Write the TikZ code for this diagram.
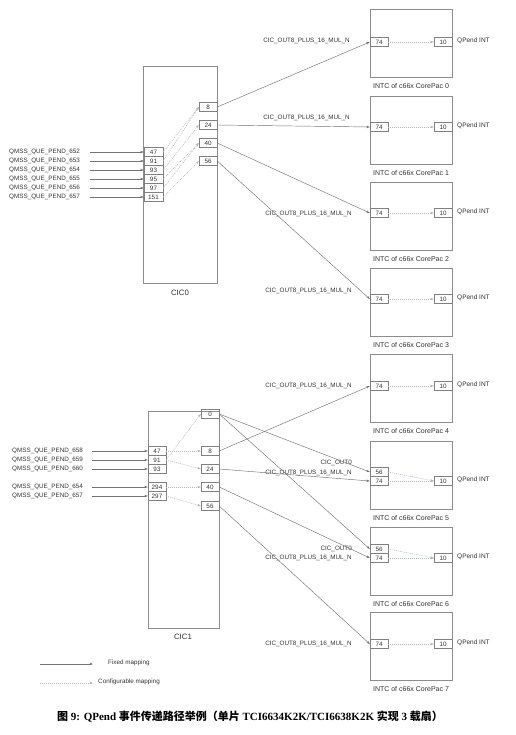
\documentclass[tikz,border=0pt]{standalone}
\usepackage{fontspec}
\setmainfont{Liberation Sans}
\newfontfamily\capserif{Liberation Serif}
\newfontfamily\cjk{Noto Sans CJK SC}
\usetikzlibrary{arrows.meta}
\begin{document}
\begin{tikzpicture}[x=1pt,y=-1pt,
  bigbox/.style={draw=black!45, line width=0.5pt, inner sep=0pt},
  port/.style={draw=black!50, line width=0.4pt, minimum width=18pt, minimum height=9pt, inner sep=0pt, font=\fontsize{6.3}{7}\selectfont, text=black!80},
  lbl/.style={font=\fontsize{6.3}{7}\selectfont, text=black!80, inner sep=0pt},
  fixed/.style={draw=black!55, line width=0.45pt, -{Stealth[length=3.5pt,width=2.4pt]}},
  config/.style={draw=blue!20!black!30, line width=0.5pt, dash pattern=on 1pt off 1pt, -{Stealth[length=3.5pt,width=2.4pt]}}]
\useasboundingbox (0,0) rectangle (515,735);
\fill[white] (0,0) rectangle (515,735);

% INTC boxes
\foreach \k/\t in {0/9,1/96,2/182,3/268,4/354,5/441,6/527,7/612}{
  \node[bigbox, minimum width=82pt, minimum height=68pt] (intc\k) at (411,\t+34) {};
  \node[lbl, font=\fontsize{7}{8}\selectfont] (intclbl\k) at (411,\t+77) {INTC of c66x CorePac \k};
}
\foreach \k/\y in {0/42,1/127,2/213,3/299,4/386,5/481,6/558,7/644}{
  \node[port] (intc\k-74) at (379,\y) {74};
  \node[port] (intc\k-10) at (443,\y) {10};
  \node[lbl, font=\fontsize{6.5}{8}\selectfont, anchor=west] (qp\k) at (457,\y-1) {QPend INT};
  \draw[config] (intc\k-74.east) -- (intc\k-10.west);
}
\node[port] (intc5-56) at (379,472) {56};
\node[port] (intc6-56) at (379,549) {56};
\draw[config] (intc5-56.east) -- (intc5-10.west);
\draw[config] (intc6-56.east) -- (intc6-10.west);

% CIC labels near INTC
\node[lbl, anchor=east] (l0) at (350,41) {CIC\_OUT8\_PLUS\_16\_MUL\_N};
\node[lbl, anchor=east] (l1) at (350,118) {CIC\_OUT8\_PLUS\_16\_MUL\_N};
\node[lbl, anchor=east] (l2) at (352,214) {CIC\_OUT8\_PLUS\_16\_MUL\_N};
\node[lbl, anchor=east] (l3) at (352,291) {CIC\_OUT8\_PLUS\_16\_MUL\_N};
\node[lbl, anchor=east] (l4) at (352,386) {CIC\_OUT8\_PLUS\_16\_MUL\_N};
\node[lbl, anchor=east] (l5a) at (352,463) {CIC\_OUT0};
\node[lbl, anchor=east] (l5b) at (352,473) {CIC\_OUT8\_PLUS\_16\_MUL\_N};
\node[lbl, anchor=east] (l6a) at (352,549) {CIC\_OUT0};
\node[lbl, anchor=east] (l6b) at (352,558) {CIC\_OUT8\_PLUS\_16\_MUL\_N};
\node[lbl, anchor=east] (l7) at (352,644) {CIC\_OUT8\_PLUS\_16\_MUL\_N};

% CIC0
\node[bigbox, minimum width=74pt, minimum height=217pt] (cic0) at (180,174.5) {};
\node[lbl, font=\fontsize{7.8}{9}\selectfont] (cic0lbl) at (180,293) {CIC0};
\foreach \n/\q/\y in {47/652/152,91/653/161,93/654/170,95/655/179,97/656/188,151/657/197}{
  \node[port, minimum width=19pt] (c0in\n) at (153.5,\y) {\n};
  \node[lbl, anchor=west] (q\q) at (9,\y) {QMSS\_QUE\_PEND\_\q};
  \draw[fixed] ([xshift=10pt]q\q.east) -- (c0in\n.west);
}
\foreach \n/\y in {8/107,24/125,40/143,56/161}{
  \node[port] (c0o\n) at (208,\y) {\n};
}
\draw[config] (c0in47.east) -- (c0o8.west);
\draw[config] (c0in91.east) -- (c0o8.west);
\draw[config] (c0in93.east) -- (c0o24.west);
\draw[config] (c0in95.east) -- (c0o40.west);
\draw[config] (c0in97.east) -- (c0o40.west);
\draw[config] (c0in151.east) -- (c0o56.west);
\draw[fixed] (c0o8.east) -- (intc0-74.west);
\draw[fixed] (c0o24.east) -- (intc1-74.west);
\draw[fixed] (c0o40.east) -- (intc2-74.west);
\draw[fixed] (c0o56.east) -- (intc3-74.west);

% CIC1
\node[bigbox, minimum width=71pt, minimum height=217pt] (cic1) at (183.5,519.5) {};
\node[lbl, font=\fontsize{7.8}{9}\selectfont] (cic1lbl) at (183,637) {CIC1};
\foreach \n/\q/\y in {47/658/451,91/659/460,93/660/469,294/654/487,297/657/496}{
  \node[port] (c1in\n) at (157,\y) {\n};
  \node[lbl, anchor=west] (r\q) at (12,\y) {QMSS\_QUE\_PEND\_\q};
  \draw[fixed] ([xshift=9pt]r\q.east) -- (c1in\n.west);
}
\foreach \n/\y in {0/414,8/451,24/469,40/487,56/506}{
  \node[port] (c1o\n) at (210,\y) {\n};
}
\draw[config] (c1in47.east) -- (c1o8.west);
\draw[config] (c1in91.east) -- (c1o0.west);
\draw[config] (c1in91.east) -- (c1o24.west);
\draw[config] (c1in294.east) -- (c1o40.west);
\draw[config] (c1in297.east) -- (c1o56.west);
\draw[fixed] (c1o0.east) -- (intc5-56.west);
\draw[fixed] (c1o0.east) -- (intc6-56.west);
\draw[fixed] (c1o8.east) -- (intc4-74.west);
\draw[fixed] (c1o24.east) -- (intc5-74.west);
\draw[fixed] (c1o40.east) -- (intc6-74.west);
\draw[fixed] (c1o56.east) -- (intc7-74.west);

% legend
\coordinate (fx0) at (40,664);
\coordinate (fx1) at (93,664);
\coordinate (cf0) at (40,683);
\coordinate (cf1) at (93,683);
\draw[fixed] (fx0) -- (fx1);
\draw[config] (cf0) -- (cf1);
\node[lbl, anchor=west] (fxl) at (108,663) {Fixed mapping};
\node[lbl, anchor=west] (cfl) at (98,682) {Configurable mapping};

% caption
\node[font=\fontsize{11}{13}\selectfont\bfseries\capserif, inner sep=0pt] (cap) at (250,717)
  {{\cjk 图} 9: QPend {\cjk 事件传递路径举例（单片} TCI6634K2K/TCI6638K2K {\cjk 实现} 3 {\cjk 载扇）}};
\end{tikzpicture}
\end{document}
